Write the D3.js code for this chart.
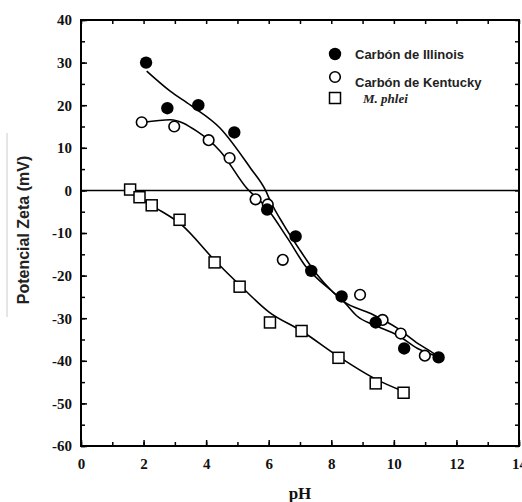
<!DOCTYPE html>
<html>
<head>
<meta charset="utf-8">
<script src="https://cdn.jsdelivr.net/npm/d3@7"></script>
<style>
  html, body { margin: 0; padding: 0; background: #fff; }
  svg { display: block; }
</style>
</head>
<body>
<div id="chart"></div>
<script>
// measured points [pH, mV]
var illinois = [[2.08, 30], [2.76, 19.3], [3.75, 20], [4.9, 13.6], [5.95, -4.5], [6.86, -10.8],
                [7.36, -18.9], [8.33, -24.9], [9.42, -31], [10.33, -37.1], [11.43, -39.2]];
var kentucky = [[1.94, 16], [2.98, 15], [4.08, 11.8], [4.75, 7.6], [5.58, -2.1], [5.97, -3.3],
                [6.45, -16.3], [8.92, -24.5], [9.64, -30.4], [10.22, -33.6], [10.99, -38.8]];
var phlei = [[1.57, 0.2], [1.87, -1.6], [2.26, -3.5], [3.15, -6.9], [4.27, -16.9], [5.07, -22.6],
             [6.04, -31], [7.05, -33], [8.23, -39.3], [9.42, -45.3], [10.31, -47.5]];

// hand drawn fit curves
var illinoisFit = [[2.1, 28], [2.85, 23.3], [3.5, 20], [4.45, 14.6], [5.42, 5.2], [5.9, 0], [6.06, -2.6],
                   [6.48, -8.1], [6.96, -13.6], [7.55, -19.8], [8.0, -23.5], [8.4, -26.1],
                   [8.84, -29.6], [9.37, -31.6], [10.12, -34], [10.76, -37.1], [11.4, -39]];
var kentuckyFit = [[2.0, 16], [2.85, 16.6], [3.7, 13.9], [4.45, 9.2], [5.3, 0.5], [5.9, -3.8],
                   [6.6, -11.2], [7.23, -18.3], [7.6, -21], [8.0, -23.5], [8.4, -26.1],
                   [9.26, -28.9], [10.12, -32.4], [10.76, -35.9], [11.28, -38.3], [11.4, -39]];
var phleiFit = [[1.57, 0.2], [1.9, -1.8], [2.3, -3.7], [3.2, -8], [4.27, -16.4], [5.07, -22.2],
                [6.0, -28.5], [7.05, -33], [8.23, -39], [9.42, -44.3], [10.31, -47.2]];

var xMajor = [0, 2, 4, 6, 8, 10, 12, 14];
var yMajor = [40, 30, 20, 10, 0, -10, -20, -30, -40, -50, -60];
var legendLabels = ["Carbón de Illinois", "Carbón de Kentucky", "M. phlei"];

var W = 522, H = 502;
var svg = d3.select("#chart").append("svg")
            .attr("width", W)
            .attr("height", H);

var x = d3.scaleLinear().domain([0, 14]).range([81, 519]);
var y = d3.scaleLinear().domain([-60, 40]).range([446, 20]);

var serif = "'Liberation Serif', 'Times New Roman', serif";
var sans = "'Liberation Sans', Arial, sans-serif";

// minor ticks (all sides, inward)
var xMinor = d3.range(0, 15, 1), yMinor = d3.range(-60, 41, 5);
function minorAxis(axis, vals, tr) {
  svg.append("g").attr("transform", tr)
     .call(axis.tickValues(vals).tickSize(-4).tickFormat(""))
     .call(function(g) { g.select(".domain").remove(); g.selectAll("line").attr("stroke-width", 1.5); });
}
minorAxis(d3.axisBottom(x), xMinor, "translate(0," + y(-60) + ")");
minorAxis(d3.axisTop(x), xMinor, "translate(0," + y(40) + ")");
minorAxis(d3.axisLeft(y), yMinor, "translate(" + x(0) + ",0)");
minorAxis(d3.axisRight(y), yMinor, "translate(" + x(14) + ",0)");

// major ticks with labels
svg.append("g")
   .attr("transform", "translate(0," + y(-60) + ")")
   .call(d3.axisBottom(x).tickValues(xMajor).tickSize(-6).tickPadding(12).tickFormat(d3.format("d")))
   .call(function(g) {
     g.select(".domain").remove();
     g.selectAll("line").attr("stroke-width", 1.5);
     g.selectAll("text").attr("font-family", serif).attr("font-weight", "bold").attr("font-size", 15).attr("fill", "#111");
   });

svg.append("g")
   .attr("transform", "translate(" + x(0) + ",0)")
   .call(d3.axisLeft(y).tickValues(yMajor).tickSize(-6).tickPadding(9).tickFormat(function(d) { return d < 0 ? "-" + (-d) : d; }))
   .call(function(g) {
     g.select(".domain").remove();
     g.selectAll("line").attr("stroke-width", 1.5);
     g.selectAll("text").attr("font-family", serif).attr("font-weight", "bold").attr("font-size", 15).attr("fill", "#111");
   });

// frame
svg.append("rect")
   .attr("x", x(0)).attr("y", y(40))
   .attr("width", x(14) - x(0)).attr("height", y(-60) - y(40))
   .attr("fill", "none").attr("stroke", "#000").attr("stroke-width", 2);

// zero line
svg.append("line")
   .attr("x1", x(0)).attr("x2", x(14))
   .attr("y1", y(0)).attr("y2", y(0))
   .attr("stroke", "#000").attr("stroke-width", 1.5);

// fit curves
var line = d3.line()
             .x(function(d) { return x(d[0]); })
             .y(function(d) { return y(d[1]); })
             .curve(d3.curveMonotoneX);

[illinoisFit, kentuckyFit, phleiFit].forEach(function(fit) {
  svg.append("path")
     .attr("d", line(fit))
     .attr("fill", "none")
     .attr("stroke", "#000")
     .attr("stroke-width", 1.6);
});

// markers
svg.append("g").selectAll("rect")
   .data(phlei).enter().append("rect")
   .attr("x", function(d) { return x(d[0]) - 5.5; })
   .attr("y", function(d) { return y(d[1]) - 5.5; })
   .attr("width", 11).attr("height", 11)
   .attr("fill", "#fff").attr("stroke", "#000").attr("stroke-width", 1.5);

svg.append("g").selectAll("circle")
   .data(kentucky).enter().append("circle")
   .attr("cx", function(d) { return x(d[0]); })
   .attr("cy", function(d) { return y(d[1]); })
   .attr("r", 5.3)
   .attr("fill", "#fff").attr("stroke", "#000").attr("stroke-width", 1.6);

svg.append("g").selectAll("circle")
   .data(illinois).enter().append("circle")
   .attr("cx", function(d) { return x(d[0]); })
   .attr("cy", function(d) { return y(d[1]); })
   .attr("r", 6.2)
   .attr("fill", "#000");

// legend
var lg = svg.append("g");
lg.append("circle").attr("cx", 335).attr("cy", 54).attr("r", 6.2).attr("fill", "#000");
lg.append("circle").attr("cx", 335).attr("cy", 77).attr("r", 5.3)
  .attr("fill", "#fff").attr("stroke", "#000").attr("stroke-width", 1.6);
lg.append("rect").attr("x", 329.5).attr("y", 92.5).attr("width", 11).attr("height", 11)
  .attr("fill", "#fff").attr("stroke", "#000").attr("stroke-width", 1.5);

lg.append("text").attr("x", 355).attr("y", 58.5)
  .attr("font-family", sans).attr("font-weight", "bold").attr("font-size", 13).attr("fill", "#222")
  .text(legendLabels[0]);
lg.append("text").attr("x", 355).attr("y", 87)
  .attr("font-family", sans).attr("font-weight", "bold").attr("font-size", 13).attr("fill", "#222")
  .text(legendLabels[1]);
lg.append("text").attr("x", 363).attr("y", 103)
  .attr("font-family", serif).attr("font-weight", "bold").attr("font-style", "italic").attr("font-size", 13).attr("fill", "#222")
  .text(legendLabels[2]);

// axis titles
svg.append("text")
   .attr("transform", "translate(29," + 230 + ")rotate(-90)")
   .attr("text-anchor", "middle")
   .attr("font-family", sans).attr("font-weight", "bold").attr("font-size", 16).attr("fill", "#222")
   .text("Potencial Zeta (mV)");

svg.append("text")
   .attr("x", (x(0) + x(14)) / 2).attr("y", 499)
   .attr("text-anchor", "middle")
   .attr("font-family", serif).attr("font-weight", "bold").attr("font-size", 17).attr("fill", "#111")
   .text("pH");

// faint scan edge left of the title
svg.append("line")
   .attr("x1", 7).attr("x2", 7).attr("y1", 133).attr("y2", 317)
   .attr("stroke", "#ccc").attr("stroke-width", 1);
</script>
</body>
</html>
